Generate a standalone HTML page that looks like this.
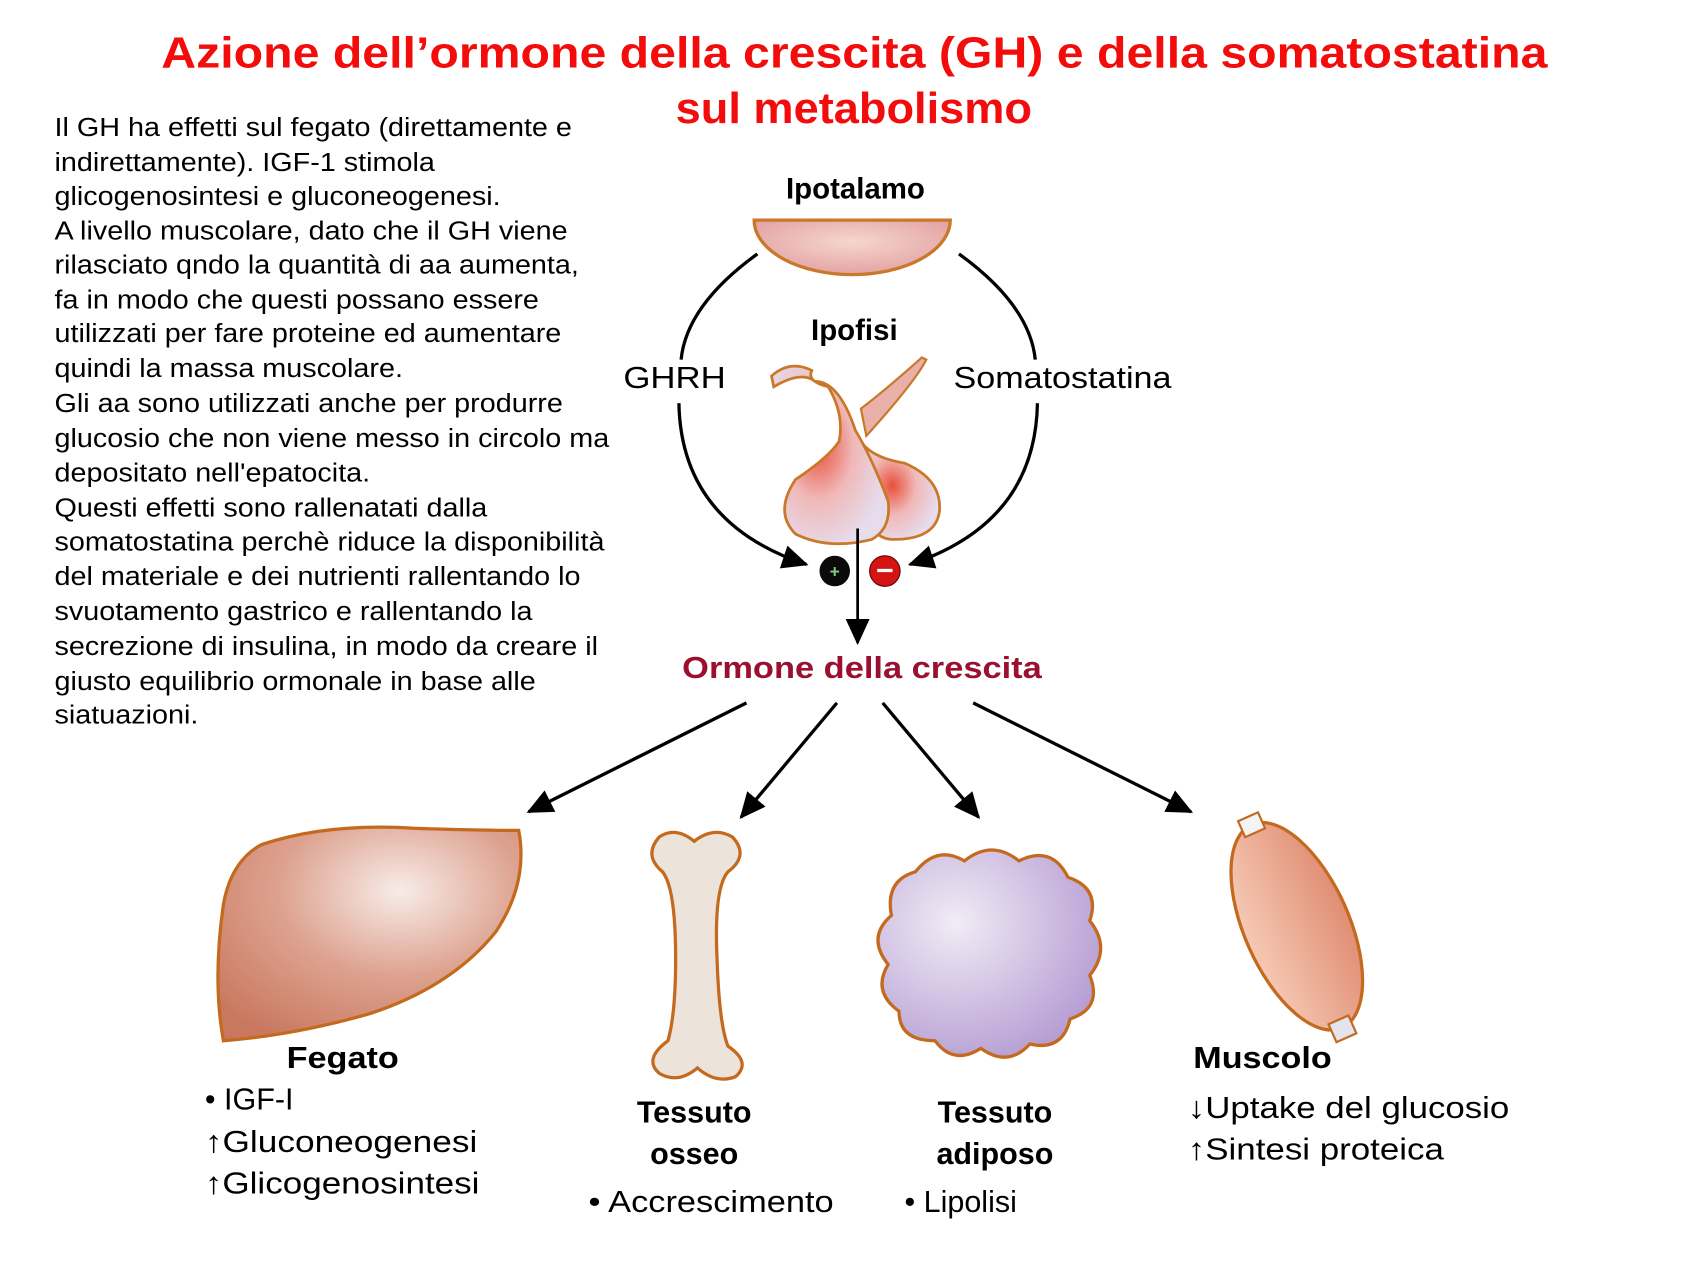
<!DOCTYPE html>
<html><head><meta charset="utf-8"><style>html,body{margin:0;padding:0;background:#fff}svg{display:block}</style></head>
<body>
<svg width="1700" height="1275" viewBox="0 0 1560 1170" xmlns="http://www.w3.org/2000/svg" font-family="Liberation Sans, sans-serif">
<defs>
<radialGradient id="hyp" cx="0.5" cy="0.4" r="0.6"><stop offset="0" stop-color="#f6d6cf"/><stop offset="1" stop-color="#e3a3a3"/></radialGradient>
<radialGradient id="pit" cx="0.4" cy="0.45" r="0.6"><stop offset="0" stop-color="#e8503a"/><stop offset="0.5" stop-color="#f0b8b8"/><stop offset="1" stop-color="#e6dcec"/></radialGradient>
<radialGradient id="liv" cx="0.6" cy="0.3" r="0.8"><stop offset="0" stop-color="#f8ece8"/><stop offset="0.5" stop-color="#dda28f"/><stop offset="1" stop-color="#c9785f"/></radialGradient>
<radialGradient id="fat" cx="0.35" cy="0.35" r="0.7"><stop offset="0" stop-color="#f1ecf5"/><stop offset="1" stop-color="#b79fd4"/></radialGradient>
<linearGradient id="mus" x1="0" y1="0" x2="1" y2="0"><stop offset="0" stop-color="#f6c9b4"/><stop offset="1" stop-color="#e08e74"/></linearGradient>
<marker id="ah2" markerWidth="24" markerHeight="22" refX="22" refY="11" orient="auto" markerUnits="userSpaceOnUse"><path d="M0,0 L24,11 L0,22 Z" fill="#000"/></marker>
</defs>
<g font-family="Liberation Sans, sans-serif" font-weight="bold" fill="#f20c0c" font-size="40">
<text x="148" y="62" textLength="1272" lengthAdjust="spacingAndGlyphs">Azione dell’ormone della crescita (GH) e della somatostatina</text>
<text x="620" y="113" textLength="327" lengthAdjust="spacingAndGlyphs">sul metabolismo</text>
</g>
<g font-size="24" fill="#000" transform="translate(-5,0) scale(1.1,1)">
<text x="50" y="125">Il GH ha effetti sul fegato (direttamente e</text>
<text x="50" y="157">indirettamente). IGF-1 stimola</text>
<text x="50" y="188">glicogenosintesi e gluconeogenesi.</text>
<text x="50" y="220">A livello muscolare, dato che il GH viene</text>
<text x="50" y="251">rilasciato qndo la quantità di aa aumenta,</text>
<text x="50" y="283">fa in modo che questi possano essere</text>
<text x="50" y="314">utilizzati per fare proteine ed aumentare</text>
<text x="50" y="346">quindi la massa muscolare.</text>
<text x="50" y="378">Gli aa sono utilizzati anche per produrre</text>
<text x="50" y="410">glucosio che non viene messo in circolo ma</text>
<text x="50" y="442">depositato nell'epatocita.</text>
<text x="50" y="474">Questi effetti sono rallenatati dalla</text>
<text x="50" y="505">somatostatina perchè riduce la disponibilità</text>
<text x="50" y="537">del materiale e dei nutrienti rallentando lo</text>
<text x="50" y="569">svuotamento gastrico e rallentando la</text>
<text x="50" y="601">secrezione di insulina, in modo da creare il</text>
<text x="50" y="633">giusto equilibrio ormonale in base alle</text>
<text x="50" y="664">siatuazioni.</text>
</g>
<text x="785" y="182" font-size="27" font-weight="bold" text-anchor="middle">Ipotalamo</text>
<path d="M692,202 L872,202 A90,50 0 0 1 692,202 Z" fill="url(#hyp)" stroke="#c87828" stroke-width="3"/>
<path d="M695,233 Q630,280 625,330" fill="none" stroke="#000" stroke-width="3"/>
<path d="M623,370 Q625,480 740,518" fill="none" stroke="#000" stroke-width="3" marker-end="url(#ah2)"/>
<path d="M880,233 Q945,280 950,330" fill="none" stroke="#000" stroke-width="3"/>
<path d="M952,370 Q950,480 835,518" fill="none" stroke="#000" stroke-width="3" marker-end="url(#ah2)"/>
<text x="572" y="356" font-size="28" textLength="94" lengthAdjust="spacingAndGlyphs">GHRH</text>
<text x="875" y="356" font-size="28" textLength="200" lengthAdjust="spacingAndGlyphs">Somatostatina</text>
<text x="784" y="312" font-size="27" font-weight="bold" text-anchor="middle">Ipofisi</text>
<path d="M795,400 Q840,350 850,330 L846,328 Q810,360 790,375 Z" fill="#e8b0a8" stroke="#c87828" stroke-width="2"/>
<path d="M790,405 Q800,420 830,425 Q865,440 862,470 Q858,495 820,495 Q800,495 795,470 Z" fill="url(#pit)" stroke="#c87828" stroke-width="2.5"/>
<path d="M708,345 Q725,330 745,340 Q740,350 760,355 Q775,380 770,405 Q760,420 730,440 Q710,470 730,490 Q760,505 800,495 Q818,485 815,460 Q800,420 785,395 Q770,350 748,350 Q735,340 710,355 Z" fill="url(#pit)" stroke="#c87828" stroke-width="2.5"/>
<circle cx="766" cy="524" r="14" fill="#0a0a0a"/>
<text x="766" y="530" font-size="16" font-weight="bold" fill="#7fd07f" text-anchor="middle">+</text>
<circle cx="812" cy="524" r="14" fill="#d41414" stroke="#600" stroke-width="1"/>
<rect x="805" y="522" width="14" height="3" fill="#fff"/>
<line x1="787" y1="485" x2="787" y2="590" stroke="#000" stroke-width="2.5" marker-end="url(#ah2)"/>
<text x="626" y="622" font-size="28" font-weight="bold" fill="#9b1030" textLength="330" lengthAdjust="spacingAndGlyphs">Ormone della crescita</text>
<g stroke="#000" stroke-width="3" fill="none">
<line x1="685" y1="645" x2="485" y2="745" marker-end="url(#ah2)"/>
<line x1="768" y1="645" x2="680" y2="750" marker-end="url(#ah2)"/>
<line x1="810" y1="645" x2="898" y2="750" marker-end="url(#ah2)"/>
<line x1="893" y1="645" x2="1093" y2="745" marker-end="url(#ah2)"/>
</g>
<path d="M240,775 Q300,755 380,760 Q440,762 476,762 Q485,810 455,855 Q415,905 340,930 Q270,950 205,955 Q195,900 205,830 Q212,790 240,775 Z" fill="url(#liv)" stroke="#c46a1e" stroke-width="3"/>
<path d="M605,768 Q620,758 637,772 Q655,758 672,768 Q688,785 668,800 Q655,815 658,880 Q660,940 668,960 Q690,975 675,988 Q657,995 640,980 Q622,995 605,985 Q590,972 613,955 Q620,930 620,880 Q620,815 608,800 Q590,785 605,768 Z" fill="#ece3da" stroke="#c46a1e" stroke-width="3"/>
<path d="M840,800 Q860,775 885,790 Q910,770 935,790 Q965,775 980,805 Q1010,815 1000,845 Q1020,870 1000,895 Q1012,925 982,935 Q975,965 945,958 Q925,980 900,962 Q875,978 858,955 Q825,955 825,928 Q800,910 815,885 Q795,860 818,840 Q812,808 840,800 Z" fill="url(#fat)" stroke="#c46a1e" stroke-width="3"/>
<g transform="rotate(-24 1190 850)">
<ellipse cx="1190" cy="850" rx="48" ry="102" fill="url(#mus)" stroke="#c46a1e" stroke-width="3"/>
<rect x="1180" y="740" width="20" height="16" fill="#f4f4f6" stroke="#c46a1e" stroke-width="2"/>
<rect x="1180" y="944" width="20" height="18" fill="#e4e4ee" stroke="#c46a1e" stroke-width="2"/>
</g>
<g font-size="28" fill="#000">
<text x="263" y="980" font-weight="bold" textLength="103" lengthAdjust="spacingAndGlyphs">Fegato</text>
<text x="188" y="1018">• IGF-I</text>
<text x="188" y="1057" textLength="250" lengthAdjust="spacingAndGlyphs">↑Gluconeogenesi</text>
<text x="188" y="1095" textLength="252" lengthAdjust="spacingAndGlyphs">↑Glicogenosintesi</text>
<text x="637" y="1030" font-weight="bold" text-anchor="middle">Tessuto</text>
<text x="637" y="1068" font-weight="bold" text-anchor="middle">osseo</text>
<text x="540" y="1112" textLength="225" lengthAdjust="spacingAndGlyphs">• Accrescimento</text>
<text x="913" y="1030" font-weight="bold" text-anchor="middle">Tessuto</text>
<text x="913" y="1068" font-weight="bold" text-anchor="middle">adiposo</text>
<text x="830" y="1112">• Lipolisi</text>
<text x="1095" y="980" font-weight="bold" textLength="127" lengthAdjust="spacingAndGlyphs">Muscolo</text>
<text x="1090" y="1026" textLength="295" lengthAdjust="spacingAndGlyphs">↓Uptake del glucosio</text>
<text x="1090" y="1064" textLength="235" lengthAdjust="spacingAndGlyphs">↑Sintesi proteica</text>
</g>
</svg>
</body></html>
